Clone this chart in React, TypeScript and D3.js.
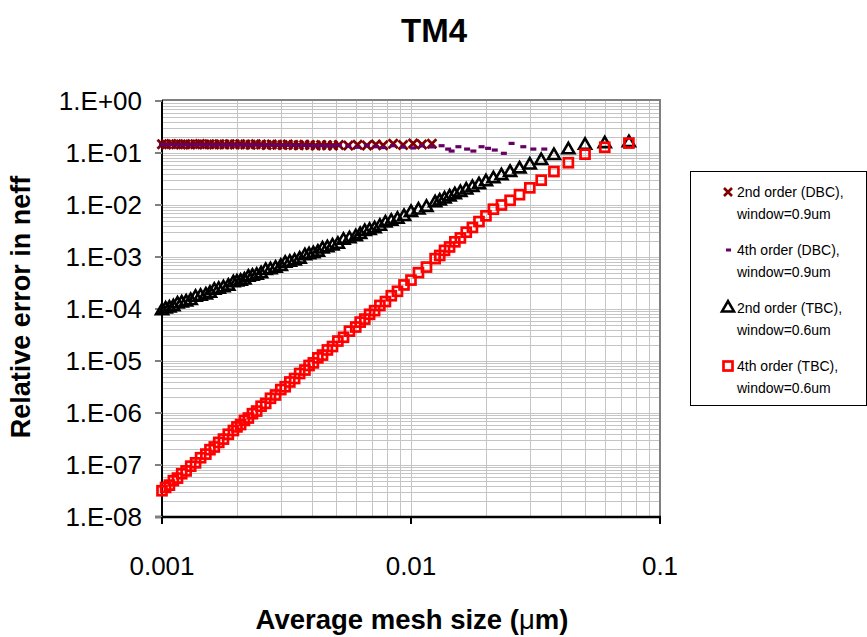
import { useEffect, useRef } from "react";
import * as d3 from "d3";

// mesh sizes (um) of the TBC runs, window = 0.6um
const meshTBC = [
  0.001, 0.001034, 0.001071, 0.001111, 0.001154, 0.0012, 0.00125, 0.001304, 0.001364, 0.001429,
  0.0015, 0.001558, 0.001622, 0.00169, 0.001765, 0.001846, 0.001935, 0.002, 0.002069, 0.002143,
  0.002222, 0.002308, 0.0024, 0.0025, 0.002609, 0.002727, 0.002857, 0.003, 0.003125, 0.003261,
  0.003409, 0.003571, 0.00375, 0.003896, 0.004054, 0.004225, 0.004412, 0.004615, 0.004839, 0.005085,
  0.005357, 0.00566, 0.006, 0.00625, 0.006522, 0.006818, 0.007143, 0.0075, 0.007895, 0.008333,
  0.008824, 0.009375, 0.01, 0.010714, 0.011538, 0.0125, 0.013043, 0.013636, 0.014286, 0.015,
  0.015789, 0.016667, 0.017647, 0.01875, 0.02, 0.021429, 0.023077, 0.025, 0.027273, 0.03,
  0.033333, 0.0375, 0.042857, 0.05, 0.06, 0.075,
];
const err2ndTBC = [
  9.3e-5, 1.0e-4, 1.04e-4, 1.1e-4, 1.25e-4, 1.3e-4, 1.36e-4, 1.45e-4, 1.68e-4, 1.75e-4,
  1.86e-4, 2.0e-4, 2.3e-4, 2.4e-4, 2.55e-4, 2.75e-4, 3.2e-4, 3.3e-4, 3.4e-4, 3.6e-4,
  4.1e-4, 4.25e-4, 4.45e-4, 4.75e-4, 5.5e-4, 5.7e-4, 6.1e-4, 6.6e-4, 7.6e-4, 7.9e-4,
  8.4e-4, 9.1e-4, 1.06e-3, 1.1e-3, 1.15e-3, 1.24e-3, 1.42e-3, 1.5e-3, 1.62e-3, 1.76e-3,
  2.1e-3, 2.25e-3, 2.45e-3, 2.7e-3, 3.1e-3, 3.25e-3, 3.5e-3, 3.9e-3, 4.5e-3, 4.85e-3,
  5.3e-3, 6.0e-3, 7.2e-3, 8.0e-3, 9.0e-3, 1.1e-2, 1.19e-2, 1.3e-2, 1.43e-2, 1.57e-2,
  1.74e-2, 1.94e-2, 2.17e-2, 2.45e-2, 2.79e-2, 3.2e-2, 3.66e-2, 4.23e-2, 4.94e-2, 5.86e-2,
  7.16e-2, 8.93e-2, 0.115, 0.141, 0.151, 0.158,
];
const err4thTBC = [
  3.2e-8, 3.7e-8, 4.1e-8, 5.0e-8, 5.6e-8, 6.8e-8, 7.7e-8, 9.5e-8, 1.1e-7, 1.38e-7,
  1.62e-7, 1.97e-7, 2.22e-7, 2.72e-7, 3.15e-7, 3.9e-7, 4.6e-7, 5.4e-7, 6.0e-7, 7.2e-7,
  8.0e-7, 9.7e-7, 1.09e-6, 1.35e-6, 1.53e-6, 1.92e-6, 2.22e-6, 2.82e-6, 3.2e-6, 3.95e-6,
  4.6e-6, 5.75e-6, 6.7e-6, 8.2e-6, 9.2e-6, 1.15e-5, 1.3e-5, 1.63e-5, 1.9e-5, 2.42e-5,
  2.86e-5, 3.75e-5, 4.5e-5, 5.6e-5, 6.4e-5, 7.9e-5, 9.3e-5, 1.17e-4, 1.39e-4, 1.8e-4,
  2.19e-4, 2.9e-4, 3.6e-4, 5.0e-4, 6.4e-4, 9.3e-4, 1.07e-3, 1.34e-3, 1.56e-3, 1.96e-3,
  2.33e-3, 3.0e-3, 3.7e-3, 4.8e-3, 6.2e-3, 8.3e-3, 1.0e-2, 1.23e-2, 1.58e-2, 2.14e-2,
  3.0e-2, 4.4e-2, 6.5e-2, 9.5e-2, 0.129, 0.155,
];

// mesh sizes (um) of the DBC runs, window = 0.9um
const meshDBC = [
  0.001, 0.00104, 0.00109, 0.00114, 0.00119, 0.00124, 0.0013, 0.00136, 0.00142, 0.00148,
  0.00155, 0.00162, 0.0017, 0.00178, 0.00187, 0.00196, 0.00206, 0.00216, 0.00227, 0.00238,
  0.0025, 0.00263, 0.00276, 0.0029, 0.00305, 0.0032, 0.00337, 0.00354, 0.00373, 0.00393,
  0.00414, 0.00436, 0.0046, 0.00486, 0.00513, 0.0056, 0.0061, 0.00665, 0.00722, 0.00773,
  0.00848, 0.00929, 0.0102, 0.01107, 0.01213,
  0.01327, 0.0141, 0.01456, 0.0155, 0.0168, 0.0178, 0.0192, 0.0204, 0.0217, 0.0236,
  0.02535, 0.02825, 0.031, 0.0343,
];
const err2ndDBC = [
  0.148, 0.146, 0.149, 0.147, 0.145, 0.148, 0.146, 0.147, 0.149, 0.146,
  0.147, 0.145, 0.148, 0.146, 0.147, 0.145, 0.148, 0.146, 0.144, 0.147,
  0.145, 0.143, 0.146, 0.144, 0.142, 0.145, 0.143, 0.141, 0.144, 0.142,
  0.14, 0.143, 0.141, 0.139, 0.143, 0.14, 0.144, 0.139, 0.145, 0.141,
  0.151, 0.143, 0.153, 0.146, 0.15,
];
const err4thDBC = [
  0.145, 0.144, 0.145, 0.144, 0.144, 0.145, 0.144, 0.144, 0.145, 0.144,
  0.144, 0.143, 0.144, 0.144, 0.143, 0.144, 0.143, 0.143, 0.144, 0.143,
  0.142, 0.143, 0.142, 0.142, 0.141, 0.142, 0.141, 0.14, 0.141, 0.14,
  0.139, 0.14, 0.138, 0.139, 0.141, 0.134, 0.129, 0.139, 0.132, 0.127,
  0.138, 0.13, 0.125, 0.137, 0.131,
  0.138, 0.119, 0.109, 0.132, 0.119, 0.109, 0.132, 0.123, 0.114, 0.0986,
  0.153, 0.132, 0.119, 0.119,
];

const yTicks = [1, 1e-1, 1e-2, 1e-3, 1e-4, 1e-5, 1e-6, 1e-7, 1e-8];
const yTickLabels = ["1.E+00", "1.E-01", "1.E-02", "1.E-03", "1.E-04", "1.E-05", "1.E-06", "1.E-07", "1.E-08"];
const xTicks = [0.001, 0.01, 0.1];
const xTickLabels = ["0.001", "0.01", "0.1"];
const legendLabels = [
  ["2nd order (DBC),", "window=0.9um"],
  ["4th order (DBC),", "window=0.9um"],
  ["2nd order (TBC),", "window=0.6um"],
  ["4th order (TBC),", "window=0.6um"],
];

const W = 867, H = 637;
const FONT = "'Liberation Sans', Arial, sans-serif";

export default function App() {
  const ref = useRef<SVGSVGElement>(null);

  useEffect(() => {
    const svg = d3.select(ref.current);
    svg.selectAll("*").remove();

    const x = d3.scaleLog().domain([0.001, 0.1]).range([162, 660]);
    const y = d3.scaleLog().domain([1e-8, 1]).range([517, 101]);

    // gridlines
    const minorX: number[] = [];
    [0.001, 0.01].forEach((d) => { for (let k = 1; k < 10; k++) minorX.push(d * k); });
    minorX.push(0.1);
    const minorY: number[] = [];
    yTicks.slice(1).forEach((d) => { for (let k = 1; k < 10; k++) minorY.push(d * k); });

    const grid = svg.append("g").attr("stroke", "#c4c4c4").attr("stroke-width", 1);
    grid.selectAll("line.gx").data(minorX).enter().append("line")
      .attr("x1", (d) => Math.round(x(d)) + 0.5).attr("x2", (d) => Math.round(x(d)) + 0.5)
      .attr("y1", 101).attr("y2", 517);
    grid.selectAll("line.gy").data(minorY).enter().append("line")
      .attr("y1", (d) => Math.round(y(d)) + 0.5).attr("y2", (d) => Math.round(y(d)) + 0.5)
      .attr("x1", 162).attr("x2", 660);

    // frame
    svg.append("line").attr("x1", 162).attr("x2", 661).attr("y1", 100).attr("y2", 100)
      .attr("stroke", "#808080").attr("stroke-width", 2);
    svg.append("line").attr("x1", 660).attr("x2", 660).attr("y1", 100).attr("y2", 517)
      .attr("stroke", "#808080").attr("stroke-width", 2);
    svg.append("line").attr("x1", 162).attr("x2", 162).attr("y1", 100).attr("y2", 524)
      .attr("stroke", "#000").attr("stroke-width", 2);
    svg.append("line").attr("x1", 155).attr("x2", 661).attr("y1", 517).attr("y2", 517)
      .attr("stroke", "#000").attr("stroke-width", 2.5);

    // y ticks
    const yt = svg.append("g");
    yt.selectAll("line").data(yTicks).enter().append("line")
      .attr("x1", 155).attr("x2", 162).attr("y1", (d) => y(d)).attr("y2", (d) => y(d))
      .attr("stroke", "#808080").attr("stroke-width", 2);
    yt.selectAll("text").data(yTicks).enter().append("text")
      .attr("x", 142).attr("y", (d) => y(d) + 9)
      .attr("text-anchor", "end").attr("font-family", FONT).attr("font-size", 26)
      .text((_, i) => yTickLabels[i]);

    // x ticks
    const xt = svg.append("g");
    xt.selectAll("line").data(xTicks).enter().append("line")
      .attr("x1", (d) => x(d)).attr("x2", (d) => x(d)).attr("y1", 517).attr("y2", 524)
      .attr("stroke", "#000").attr("stroke-width", 2);
    xt.selectAll("text").data(xTicks).enter().append("text")
      .attr("x", (d) => x(d)).attr("y", 575)
      .attr("text-anchor", "middle").attr("font-family", FONT).attr("font-size", 26)
      .text((_, i) => xTickLabels[i]);

    // series
    const plot = svg.append("g");
    const xPath = "M-4.5,-4.5L4.5,4.5M-4.5,4.5L4.5,-4.5";
    plot.selectAll("path.x2").data(err2ndDBC).enter().append("path")
      .attr("transform", (d, i) => `translate(${x(meshDBC[i])},${y(d)})`)
      .attr("d", xPath).attr("stroke", "#800000").attr("stroke-width", 2.8).attr("fill", "none");
    const tri = d3.symbol().type(d3.symbolTriangle).size(62);
    plot.selectAll("path.t2").data(err2ndTBC).enter().append("path")
      .attr("transform", (d, i) => `translate(${x(meshTBC[i])},${y(d)})`)
      .attr("d", tri()).attr("stroke", "#000").attr("stroke-width", 2.6)
      .attr("stroke-linejoin", "miter").attr("fill", "none");
    plot.selectAll("rect.t4").data(err4thTBC).enter().append("rect")
      .attr("x", (d, i) => x(meshTBC[i]) - 4.5).attr("y", (d) => y(d) - 4.5)
      .attr("width", 9).attr("height", 9)
      .attr("stroke", "#ff0000").attr("stroke-width", 2.7).attr("fill", "none");
    // purple dashes sit on top of the X band
    plot.selectAll("rect.d4").data(err4thDBC).enter().append("rect")
      .attr("x", (d, i) => x(meshDBC[i]) - 3).attr("y", (d) => y(d) - 1.6)
      .attr("width", 6).attr("height", 3.2).attr("fill", "#660066");

    // titles
    svg.append("text").attr("x", 434).attr("y", 42).attr("text-anchor", "middle")
      .attr("font-family", FONT).attr("font-weight", "bold").attr("font-size", 33).text("TM4");
    const xl = svg.append("text").attr("x", 412).attr("y", 629).attr("text-anchor", "middle")
      .attr("font-family", FONT).attr("font-weight", "bold").attr("font-size", 27.5);
    xl.append("tspan").text("Average mesh size (");
    xl.append("tspan").attr("font-weight", "normal").text("\u03bc");
    xl.append("tspan").text("m)");
    svg.append("text").attr("transform", "translate(30,307) rotate(-90)").attr("text-anchor", "middle")
      .attr("font-family", FONT).attr("font-weight", "bold").attr("font-size", 27)
      .text("Relative error in neff");

    // legend
    const lg = svg.append("g");
    lg.append("rect").attr("x", 690.5).attr("y", 171.5).attr("width", 176).attr("height", 234)
      .attr("fill", "#fff").attr("stroke", "#000").attr("stroke-width", 1);
    const rows = [192, 250, 308, 366];
    rows.forEach((ry, i) => {
      const g = lg.append("g").attr("transform", `translate(728,${ry})`);
      if (i === 0) g.append("path").attr("d", "M-4,-4L4,4M-4,4L4,-4")
        .attr("stroke", "#800000").attr("stroke-width", 2.6);
      if (i === 1) g.append("rect").attr("x", -2).attr("y", -1.5).attr("width", 5).attr("height", 3)
        .attr("fill", "#660066");
      if (i === 2) g.append("path").attr("d", tri()).attr("stroke", "#000").attr("stroke-width", 2.6)
        .attr("fill", "none");
      if (i === 3) g.append("rect").attr("x", -4.5).attr("y", -4.5).attr("width", 9).attr("height", 9)
        .attr("stroke", "#ff0000").attr("stroke-width", 2.7).attr("fill", "none");
      legendLabels[i].forEach((t, j) => {
        lg.append("text").attr("x", 737).attr("y", ry + 5 + j * 22)
          .attr("font-family", FONT).attr("font-size", 14).text(t);
      });
    });
  }, []);

  return (
    <svg ref={ref} width={W} height={H}
      style={{ position: "absolute", left: 0, top: 0, background: "#fff" }} />
  );
}
